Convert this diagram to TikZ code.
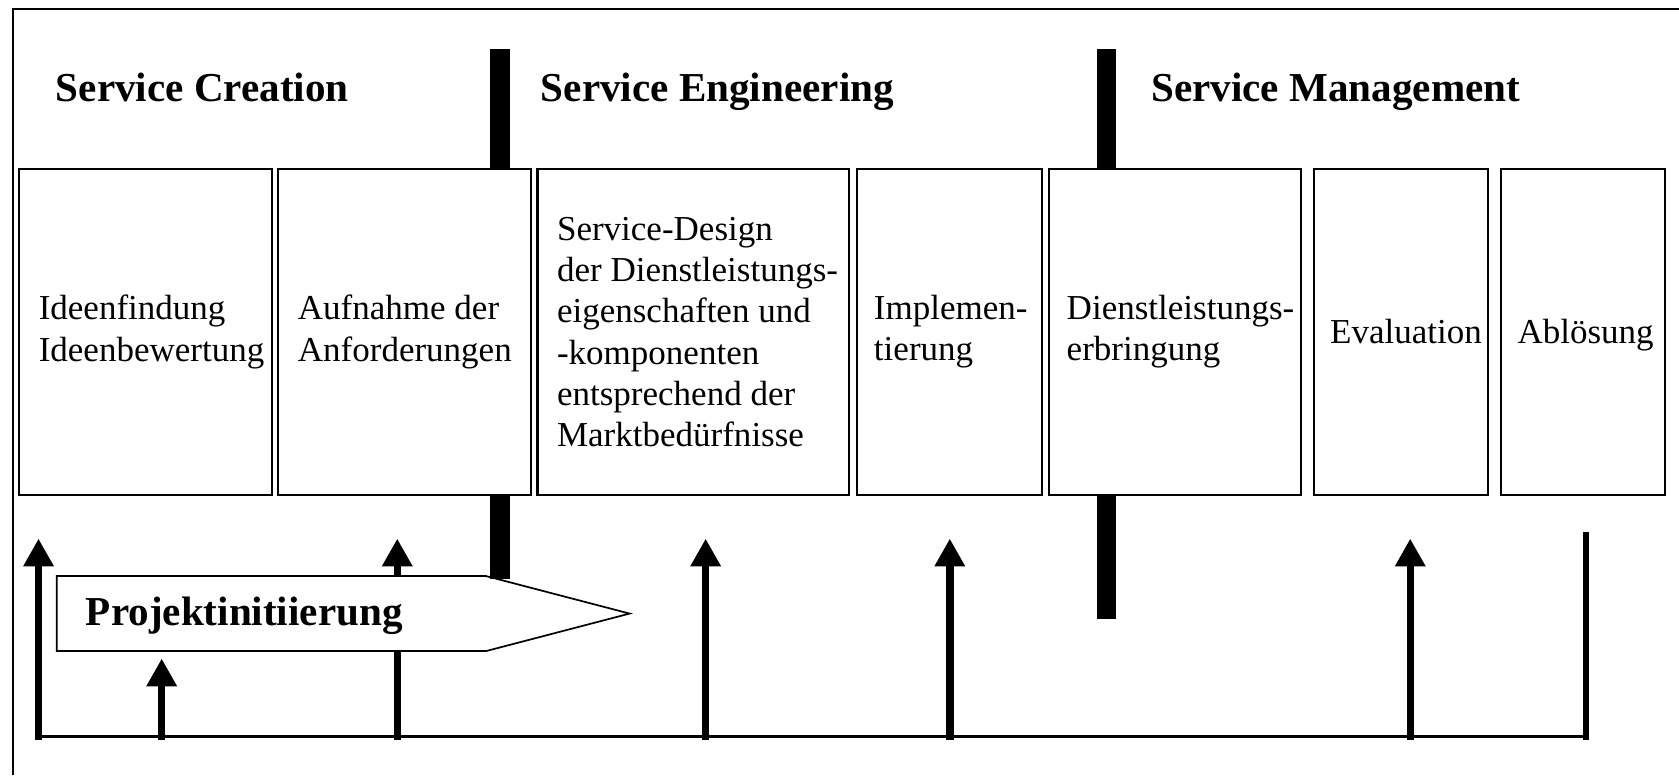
\documentclass[tikz,border=0pt]{standalone}
\usepackage{fontspec}
\setmainfont{Liberation Serif}
\usetikzlibrary{arrows.meta}
\begin{document}
\begin{tikzpicture}[x=1pt,y=-1pt,
  box/.style={draw, line width=2pt, minimum height=304pt, inner sep=0pt},
  txt/.style={anchor=west, align=left, inner sep=0pt, font=\fontsize{32.7}{38.6}\selectfont},
  head/.style={anchor=base west, inner sep=0pt, font=\fontsize{38.4}{46}\selectfont\bfseries},
  bar/.style={line width=18pt},
  up/.style={line width=7pt, -{Triangle[width=27pt,length=26pt]}},
  endline/.style={line width=6pt},
  baseln/.style={line width=2.5pt},
  frame/.style={line width=2.2pt},
]
\useasboundingbox (0,0) rectangle (1568,724);
% frame (left and top only)
\coordinate (fbl) at (12,724);
\coordinate (ftl) at (12,8.7);
\coordinate (ftr) at (1568,8.7);
\draw[frame] (fbl) -- (ftl) -- (ftr);

% headings
\node[head] (h1) at (52,95) {Service Creation};
\node[head] (h2) at (505,95) {Service Engineering};
\node[head] (h3) at (1075,95) {Service Management};

% boxes
\node[box, minimum width=236pt] (b1) at (136,310) {};
\node[box, minimum width=236pt] (b2) at (378,310) {};
\node[box, minimum width=291pt] (b3) at (647.5,310) {};
\node[box, minimum width=173pt] (b4) at (886.5,310) {};
\node[box, minimum width=235pt] (b5) at (1097.5,310) {};
\node[box, minimum width=163pt] (b6) at (1308.5,310) {};
\node[box, minimum width=153pt] (b7) at (1478.5,310) {};

\node[txt] (t1) at ([xshift=19pt]b1.west) {Ideenfindung\\Ideenbewertung};
\node[txt] (t2) at ([xshift=19pt]b2.west) {Aufnahme der\\Anforderungen};
\node[txt] (t3) at ([xshift=19pt]b3.west) {Service-Design\\der Dienstleistungs-\\eigenschaften und\\-komponenten\\entsprechend der\\Marktbedürfnisse};
\node[txt] (t4) at ([xshift=17pt]b4.west) {Implemen-\\tierung};
\node[txt] (t5) at ([xshift=17pt]b5.west) {Dienstleistungs-\\erbringung};
\node[txt, anchor=base west] (t6) at ([xshift=16pt, yshift=-11pt]b6.west) {Evaluation};
\node[txt, anchor=base west] (t7) at ([xshift=16pt, yshift=-11pt]b7.west) {Ablösung};

% baseline and arrows
\coordinate (L0) at (36,688);
\coordinate (L1) at (1481,688);
\draw[baseln] (L0) -- (L1);

\coordinate (a1b) at (36,691);   \coordinate (a1t) at (36,503);
\coordinate (a2b) at (151,691);  \coordinate (a2t) at (151,615);
\coordinate (a3b) at (371,691);  \coordinate (a3t) at (371,503);
\coordinate (a4b) at (659,691);  \coordinate (a4t) at (659,503);
\coordinate (a5b) at (887,691);  \coordinate (a5t) at (887,503);
\coordinate (a6b) at (1317,691); \coordinate (a6t) at (1317,503);
\coordinate (a7b) at (1481,691); \coordinate (a7t) at (1481,497);
\draw[up] (a1b) -- (a1t);
\draw[up] (a2b) -- (a2t);
\draw[up] (a3b) -- (a3t);
\draw[up] (a4b) -- (a4t);
\draw[up] (a5b) -- (a5t);
\draw[up] (a6b) -- (a6t);
\draw[endline] (a7b) -- (a7t);

% Projektinitiierung pentagon
\coordinate (p1) at (53,538);
\coordinate (p2) at (454,538);
\coordinate (p3) at (588,573);
\coordinate (p4) at (454,608);
\coordinate (p5) at (53,608);
\draw[line width=1.6pt, fill=white] (p1) -- (p2) -- (p3) -- (p4) -- (p5) -- cycle;
\node[head, anchor=west] (pi) at (80,575) {Projektinitiierung};

% thick phase separators
\coordinate (s1a) at (467,46);   \coordinate (s1b) at (467,158);
\coordinate (s1c) at (467,462);  \coordinate (s1d) at (467,541);
\coordinate (s2a) at (1033,46);  \coordinate (s2b) at (1033,158);
\coordinate (s2c) at (1033,462); \coordinate (s2d) at (1033,578);
\draw[bar] (s1a) -- (s1b);
\draw[bar] (s1c) -- (s1d);
\draw[bar] (s2a) -- (s2b);
\draw[bar] (s2c) -- (s2d);
\end{tikzpicture}
\end{document}
